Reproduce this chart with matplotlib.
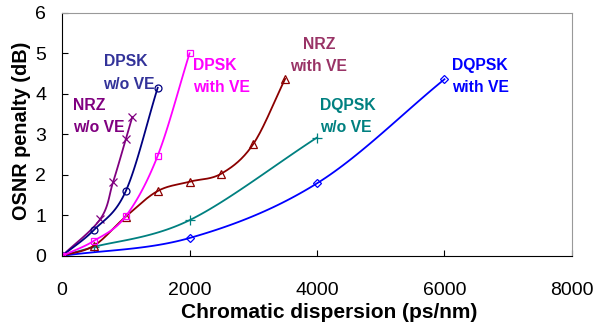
import numpy as np
import matplotlib.pyplot as plt

plt.rcParams['font.family'] = ['Liberation Sans', 'DejaVu Sans']

# data (ps/nm, dB)
nrz_wo_x = [0, 600, 800, 1000, 1100]
nrz_wo_y = [0, 0.91, 1.82, 2.88, 3.42]
dpsk_wo_x = [0, 500, 1000, 1500]
dpsk_wo_y = [0, 0.64, 1.60, 4.15]
dpsk_ve_x = [0, 500, 1000, 1500, 2000]
dpsk_ve_y = [0, 0.37, 0.98, 2.47, 5.0]
nrz_ve_x = [0, 500, 1000, 1500, 2000, 2500, 3000, 3500]
nrz_ve_y = [0, 0.25, 0.97, 1.6, 1.83, 2.03, 2.76, 4.37]
dqpsk_wo_x = [0, 500, 2000, 4000]
dqpsk_wo_y = [0, 0.22, 0.88, 2.92]
dqpsk_ve_x = [0, 2000, 4000, 6000]
dqpsk_ve_y = [0, 0.44, 1.79, 4.36]


def smooth(xs, ys, n=30):
    # catmull-rom, like the smoothed lines of the original spreadsheet chart
    p = np.column_stack([xs, ys]).astype(float)
    p = np.vstack([2 * p[0] - p[1], p, 2 * p[-1] - p[-2]])
    t = np.linspace(0, 1, n)[:, None]
    out = []
    for i in range(1, len(p) - 2):
        p0, p1, p2, p3 = p[i - 1], p[i], p[i + 1], p[i + 2]
        seg = 0.5 * ((2 * p1) + (-p0 + p2) * t + (2 * p0 - 5 * p1 + 4 * p2 - p3) * t ** 2
                     + (-p0 + 3 * p1 - 3 * p2 + p3) * t ** 3)
        out.append(seg)
    out = np.vstack(out)
    return out[:, 0], out[:, 1]


series = [
    (nrz_wo_x, nrz_wo_y, '#800080', 'x', 6),
    (dpsk_wo_x, dpsk_wo_y, '#000080', 'o', 5),
    (dqpsk_wo_x, dqpsk_wo_y, '#008080', '+', 7),
    (dqpsk_ve_x, dqpsk_ve_y, '#0000FF', 'D', 4),
    (nrz_ve_x, nrz_ve_y, '#8B0000', '^', 6),
    (dpsk_ve_x, dpsk_ve_y, '#FF00FF', 's', 5),
]

fig = plt.figure(figsize=(5.97, 3.28), dpi=100)
ax = fig.add_axes([0.104, 0.22, 0.854, 0.741])

for xs, ys, c, m, ms in series:
    sx, sy = smooth(xs, ys)
    ax.plot(sx, sy, color=c, lw=1.3)
    ax.plot(xs, ys, ls='none', marker=m, ms=ms, mfc='none', mec=c, mew=0.9)

# curve labels (anchored at the baseline of the last line)
lab = dict(fontsize=11.3, fontweight='bold', va='baseline', linespacing=1.6)
ax.text(650, 4.13, 'DPSK\nw/o VE', color='#333399', ha='left', **lab)
ax.text(175, 3.05, 'NRZ\nw/o VE', color='#800080', ha='left', **lab)
ax.text(2060, 4.05, 'DPSK\nwith VE', color='#FF00FF', ha='left', **lab)
ax.text(4028, 4.56, 'NRZ\nwith VE', color='#993366', ha='center', multialignment='center', **lab)
ax.text(4045, 3.05, 'DQPSK\nw/o VE', color='#008080', ha='left', **lab)
ax.text(6125, 4.04, 'DQPSK\nwith VE', color='#0000FF', ha='left', **lab)

ax.set_xlim(0, 8000)
ax.set_ylim(0, 6)
ax.set_xticks([0, 2000, 4000, 6000, 8000])
ax.set_yticks(range(7))
ax.tick_params(direction='in', length=4, labelsize=14, width=0.8)
ax.tick_params(axis='x', pad=19)
ax.tick_params(axis='y', pad=11.5)
ax.spines['top'].set_color('#999999')
ax.spines['right'].set_color('#999999')
ax.set_xlabel('Chromatic dispersion (ps/nm)', fontsize=15, fontweight='bold')
ax.set_ylabel('OSNR penalty (dB)', fontsize=14.3, fontweight='bold')
ax.xaxis.set_label_coords(0.5245, -0.195)
ax.yaxis.set_label_coords(-0.06, 0.514)

fig.savefig('out.png', dpi=100)
